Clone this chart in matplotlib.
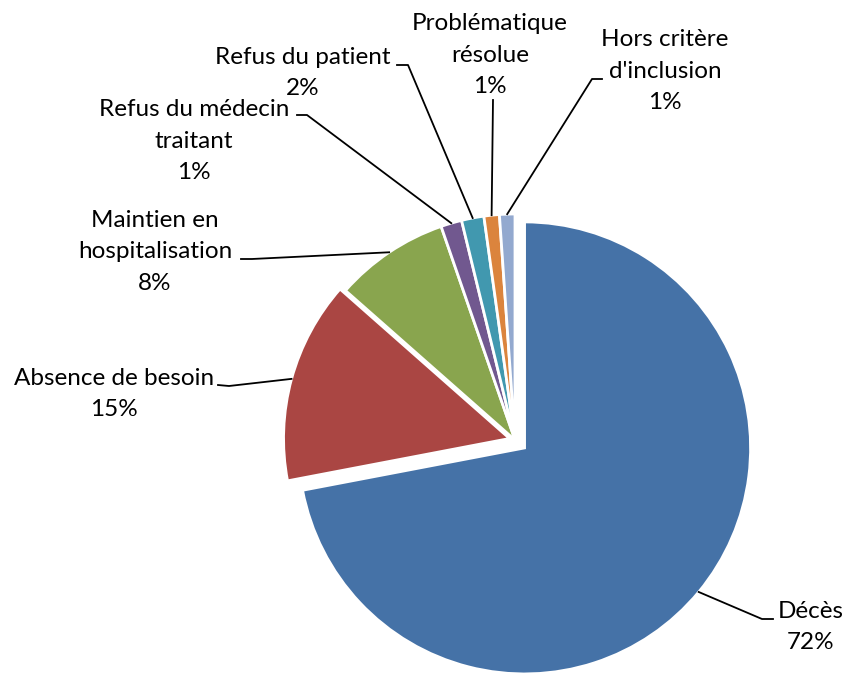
import numpy as np
import matplotlib.pyplot as plt

categories = ['Décès', 'Absence de besoin', 'Maintien en\nhospitalisation',
              'Refus du médecin\ntraitant', 'Refus du patient',
              'Problématique\nrésolue', "Hors critère\nd'inclusion"]
shares = [72.0, 14.5, 8.2, 1.5, 1.6, 1.1, 1.1]
pct_labels = ['72%', '15%', '8%', '1%', '2%', '1%', '1%']
colors = ['#4572A7', '#AA4643', '#89A54E', '#71588F', '#4198AF', '#DB843D', '#93A9CF']
explode = [0.055, 0.025, 0, 0, 0, 0, 0]

# layout, in pixels of the 845x675 picture
PX_R, PX_CX, PX_CY = 226, 515, 440
text_pos = [(811, 627), (114, 394), (155, 252), (194, 141), (303, 73), (490, 55), (665, 71)]
leader_start = [(773, 619), (218, 385), (241, 259), (297, 115), (397, 65), (493, 100), (602, 79)]
leader_elbow = [(762, 619), (229, 386), (252, 259), (307, 115), (408, 65), (493, 100), (592, 79)]


def px(x, y):
    return ((x - PX_CX) / PX_R, (PX_CY - y) / PX_R)


plt.rcParams['font.family'] = ['Lato', 'DejaVu Sans']

fig = plt.figure(figsize=(8.45, 6.75), dpi=100)
ax = fig.add_axes([0, 0, 1, 1])

wedges, _ = ax.pie(shares, colors=colors, startangle=90, counterclock=False,
                   explode=explode, wedgeprops=dict(edgecolor='white', linewidth=2))

for w, cat, pct, tp, s, e in zip(wedges, categories, pct_labels, text_pos, leader_start, leader_elbow):
    mid = np.deg2rad((w.theta1 + w.theta2) / 2)
    ax_pt = (w.center[0] + w.r * np.cos(mid), w.center[1] + w.r * np.sin(mid))
    p0, p1 = px(*s), px(*e)
    ax.plot([p0[0], p1[0], ax_pt[0]], [p0[1], p1[1], ax_pt[1]], color='black', lw=1.3)
    ax.text(*px(*tp), f'{cat}\n{pct}', ha='center', va='center', fontsize=17.5,
            linespacing=1.6, color='black')

ax.set_xlim(-PX_CX / PX_R, (845 - PX_CX) / PX_R)
ax.set_ylim(-(675 - PX_CY) / PX_R, PX_CY / PX_R)
ax.set_aspect('equal')
ax.axis('off')

fig.savefig('out.png', dpi=100)
